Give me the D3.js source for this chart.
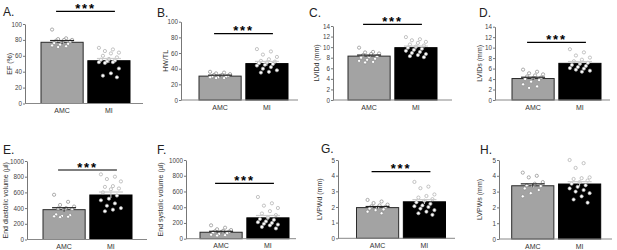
<!DOCTYPE html>
<html>
<head>
<meta charset="utf-8">
<script src="https://cdn.jsdelivr.net/npm/d3@7/dist/d3.min.js"></script>
<style>
  body { margin: 0; background: #fff; }
  text { font-family: "Liberation Sans", Arial, sans-serif; }
</style>
</head>
<body>
<div class="container"></div>
<script>
var groups = ["AMC", "MI"];
var panelIds = ["A.", "B.", "C.", "D.", "E.", "F.", "G.", "H."];
var yLabels = ["EF (%)", "HW/TL", "LVIDd (mm)", "LVIDs (mm)",
  "End diastolic volume (\u00b5l)", "End systolic volume (\u00b5l)", "LVPWd (mm)", "LVPWs (mm)"];
var yTicks = [
  [0, 20, 40, 60, 80, 100],
  [0, 20, 40, 60, 80, 100],
  [0, 2, 4, 6, 8, 10, 12, 14],
  [0, 2, 4, 6, 8, 10, 12, 14],
  [0, 200, 400, 600, 800, 1000],
  [0, 200, 400, 600, 800, 1000],
  [0, 1, 2, 3, 4, 5],
  [0, 1, 2, 3, 4, 5]
];
var amcMeans = [77, 30.5, 8.3, 4.1, 380, 82, 1.96, 3.37];
var miMeans = [53.8, 46.5, 9.9, 7.0, 567, 265, 2.33, 3.48];
var amcSem = [2.2, 1.2, 0.2, 0.25, 25, 12, 0.07, 0.12];
var miSem = [2.8, 2.8, 0.3, 0.35, 38, 30, 0.14, 0.15];
var significance = ["***", "***", "***", "***", "***", "***", "***", ""];

var amcPoints = [
  [93, 82, 81, 80, 80, 79, 78, 77, 76, 75, 74, 73, 72, 71],
  [36, 35, 34, 33, 32, 32, 31, 31, 30, 30, 29, 29, 28, 28],
  [9.9, 9.1, 9.0, 8.8, 8.7, 8.5, 8.3, 8.1, 8.0, 7.8, 7.6, 7.4, 7.2, 7.1],
  [5.8, 5.4, 5.1, 4.9, 4.7, 4.5, 4.3, 4.2, 4.0, 3.8, 3.5, 3.0, 2.6, 2.3],
  [570, 480, 440, 420, 400, 395, 390, 385, 320, 310, 300, 295, 290, 285],
  [170, 140, 120, 110, 100, 95, 90, 85, 80, 70, 60, 50, 45, 40],
  [2.45, 2.35, 2.25, 2.15, 2.1, 2.05, 2.0, 1.95, 1.9, 1.85, 1.8, 1.7, 1.6],
  [4.2, 4.0, 3.9, 3.6, 3.5, 3.4, 3.35, 3.3, 3.2, 3.1, 2.9, 2.7]
];
var miPoints = [
  [70, 68, 66, 64, 63, 60, 58, 56, 55, 54, 53, 52, 52, 51, 44, 38, 35, 33],
  [65, 62, 58, 55, 52, 50, 49, 48, 47, 46, 45, 44, 42, 40, 38, 36, 35],
  [11.9, 11.5, 11.3, 11.0, 10.8, 10.5, 10.3, 10.1, 9.9, 9.7, 9.5, 9.3, 9.1, 8.9, 8.7, 8.5, 8.3, 8.1],
  [9.7, 9.1, 8.5, 8.1, 7.7, 7.4, 7.1, 6.9, 6.7, 6.5, 6.3, 6.1, 6.0, 5.8, 5.6, 5.4],
  [830, 800, 770, 740, 680, 670, 650, 640, 600, 560, 520, 500, 460, 430, 400, 380, 360],
  [530, 450, 420, 390, 350, 320, 300, 270, 250, 240, 220, 210, 200, 190, 180, 170, 150, 130],
  [3.6, 3.3, 3.2, 2.8, 2.7, 2.6, 2.5, 2.4, 2.3, 2.2, 2.1, 2.05, 2.0, 1.9, 1.8, 1.7, 1.6, 1.5],
  [5.0, 4.8, 4.5, 3.9, 3.85, 3.8, 3.7, 3.6, 3.5, 3.4, 3.3, 3.2, 3.1, 3.0, 2.9, 2.7, 2.5, 2.3]
];

// where each small panel sits on the page
var layout = [
  {x0: 25,  top: 24,   bottom: 103.5, barStart: 41,    right: 143, sigY: 11.3,  titleX: 3,   titleY: 16,    labelX: 10},
  {x0: 181, top: 21.7, bottom: 100,   barStart: 199,   right: 298, sigY: 33.7,  titleX: 157, titleY: 16.5,  labelX: 166},
  {x0: 333, top: 26,   bottom: 100,   barStart: 348,   right: 452, sigY: 24.3,  titleX: 309, titleY: 17,    labelX: 317},
  {x0: 495, top: 26.7, bottom: 100,   barStart: 512,   right: 610, sigY: 42.3,  titleX: 479, titleY: 16.5,  labelX: 480},
  {x0: 27,  top: 161,  bottom: 239.5, barStart: 43,    right: 147, sigY: 170,   titleX: 3,   titleY: 153.5, labelX: 6},
  {x0: 186, top: 160,  bottom: 238.7, barStart: 200,   right: 296, sigY: 183.3, titleX: 157, titleY: 153.5, labelX: 161},
  {x0: 338, top: 160,  bottom: 238.3, barStart: 356.5, right: 455, sigY: 171.7, titleX: 321, titleY: 153,   labelX: 320},
  {x0: 499, top: 160,  bottom: 239,   barStart: 511.7, right: 612, sigY: null,  titleX: 480, titleY: 153.5, labelX: 480}
];

var WIDTH = 617, HEIGHT = 250;

var svg = d3.select('.container').append('svg')
  .attr('width', WIDTH)
  .attr('height', HEIGHT);

var translate = function(x, y) { return "translate(" + x + "," + y + ")"; };

var drawPanel = function(p) {
  var L = layout[p];
  var ticks = yTicks[p];
  var g = svg.append('g');

  var yScale = d3.scaleLinear()
    .domain([0, ticks[ticks.length - 1]])
    .range([L.bottom, L.top]);

  var xScale = d3.scaleBand()
    .domain(groups)
    .range([L.barStart, L.barStart + 89])
    .paddingInner(0.1)
    .paddingOuter(0);
  var bw = xScale.bandwidth();

  // title letter
  g.append('text')
    .attr('x', L.titleX).attr('y', L.titleY)
    .attr('font-size', 12).attr('fill', '#222')
    .text(panelIds[p]);

  // y axis
  var yAxis = d3.axisLeft(yScale).tickValues(ticks).tickFormat(d3.format('d'))
    .tickSize(2).tickSizeOuter(0).tickPadding(1);
  var ax = g.append('g').attr('transform', translate(L.x0, 0)).call(yAxis);
  ax.select('.domain').attr('stroke', '#777');
  ax.selectAll('.tick line').attr('stroke', '#777');
  ax.selectAll('.tick text').attr('font-size', 6.3).attr('fill', '#444')
    .style('font-family', '"Liberation Sans", Arial, sans-serif');

  g.append('text')
    .attr('transform', translate(L.labelX, (L.top + L.bottom) / 2) + ' rotate(-90)')
    .attr('text-anchor', 'middle').attr('dy', '0.35em')
    .attr('font-size', 7).attr('fill', '#333')
    .text(yLabels[p]);

  var means = [amcMeans[p], miMeans[p]];
  var sems = [amcSem[p], miSem[p]];
  var pts = [amcPoints[p], miPoints[p]];

  // bars
  g.selectAll('rect.bar').data(groups).enter().append('rect')
    .attr('x', function(d) { return xScale(d); })
    .attr('width', bw)
    .attr('y', function(d, i) { return yScale(means[i]); })
    .attr('height', function(d, i) { return L.bottom - yScale(means[i]); })
    .attr('fill', function(d, i) { return i === 0 ? '#a3a3a3' : '#000'; })
    .attr('stroke', function(d, i) { return i === 0 ? '#2a2a2a' : '#000'; })
    .attr('stroke-width', 1);

  // x axis line
  g.append('line')
    .attr('x1', L.x0).attr('x2', L.right)
    .attr('y1', L.bottom).attr('y2', L.bottom)
    .attr('stroke', '#888').attr('stroke-width', 1);

  // points
  groups.forEach(function(grp, gi) {
    var cx = xScale(grp) + bw / 2;
    g.selectAll(null).data(pts[gi]).enter().append('circle')
      .attr('cx', function(d, i) { return cx + (((i * 7) % 11) - 5) * 2; })
      .attr('cy', function(d) { return yScale(d); })
      .attr('r', 1.6)
      .attr('fill', '#fff')
      .attr('stroke', gi === 0 ? '#8a8a8a' : '#aaa')
      .attr('stroke-width', 0.7);
  });

  // error bars
  groups.forEach(function(grp, gi) {
    var cx = xScale(grp) + bw / 2;
    var col = gi === 0 ? '#222' : '#ccc';
    var hi = yScale(means[gi] + sems[gi]), lo = yScale(means[gi] - sems[gi]);
    g.append('line').attr('x1', cx).attr('x2', cx).attr('y1', hi).attr('y2', lo)
      .attr('stroke', col).attr('stroke-width', 1);
    g.append('line').attr('x1', cx - 12).attr('x2', cx + 12).attr('y1', hi).attr('y2', hi)
      .attr('stroke', col).attr('stroke-width', 1.2);
  });

  // x labels
  g.selectAll('text.xl').data(groups).enter().append('text')
    .attr('x', function(d) { return xScale(d) + bw / 2; })
    .attr('y', L.bottom + 9.5)
    .attr('text-anchor', 'middle')
    .attr('font-size', 7).attr('fill', '#333')
    .text(function(d) { return d; });

  // significance
  if (significance[p]) {
    var sx1 = xScale(groups[0]) + bw / 2 - 6;
    var sx2 = xScale(groups[1]) + bw / 2 + 6;
    g.append('line')
      .attr('x1', sx1).attr('x2', sx2)
      .attr('y1', L.sigY).attr('y2', L.sigY)
      .attr('stroke', '#000').attr('stroke-width', 1.2);
    g.append('text')
      .attr('x', (sx1 + sx2) / 2).attr('y', L.sigY + 1.5)
      .attr('text-anchor', 'middle')
      .attr('font-size', 13).attr('font-weight', 'bold')
      .attr('letter-spacing', 1.8)
      .text(significance[p]);
  }
};

for (var p = 0; p < panelIds.length; p++) {
  drawPanel(p);
}
</script>
</body>
</html>
